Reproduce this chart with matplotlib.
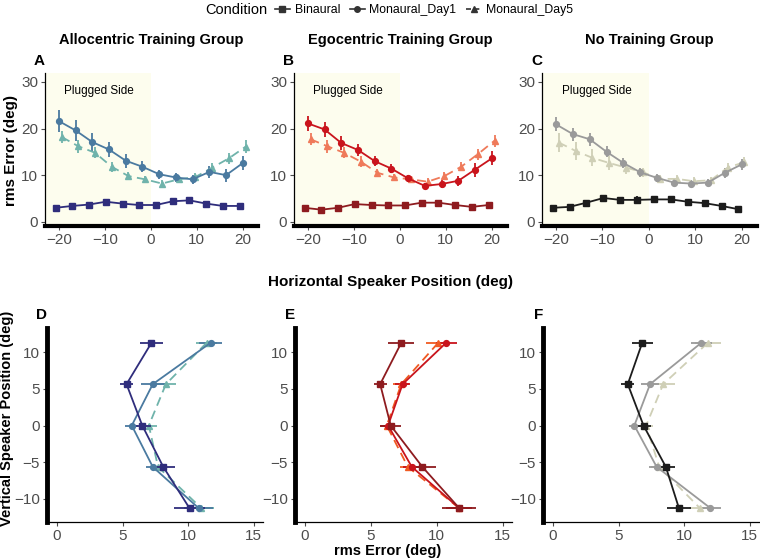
import numpy as np
import matplotlib
matplotlib.use("Agg")
import matplotlib.pyplot as plt
from matplotlib.lines import Line2D

plt.rcParams["font.family"] = ["Liberation Sans", "DejaVu Sans"]

# ---- data: horizontal speakers (top row) ----
h_pos = [-20, -16.36, -12.73, -9.09, -5.45, -1.82, 1.82, 5.45, 9.09, 12.73, 16.36, 20]

allo_bin = [3.0, 3.4, 3.7, 4.3, 3.9, 3.6, 3.6, 4.4, 4.6, 3.9, 3.4, 3.4]
allo_d1 = [21.6, 19.6, 17.1, 15.5, 13.1, 11.8, 10.2, 9.5, 9.1, 10.7, 10.0, 12.6]
allo_d5 = [18.2, 16.2, 14.8, 11.8, 9.8, 9.1, 8.2, 9.1, 9.6, 11.6, 13.6, 16.1]
allo_bin_err = [0.5, 0.4, 0.4, 0.4, 0.4, 0.4, 0.4, 0.4, 0.4, 0.4, 0.4, 0.4]
allo_d1_err = [2.4, 2.3, 1.9, 1.7, 1.5, 1.2, 1.0, 0.9, 0.9, 1.3, 1.4, 1.5]
allo_d5_err = [1.3, 1.4, 1.2, 1.1, 0.9, 0.8, 0.8, 0.8, 0.9, 1.0, 1.2, 1.4]

ego_bin = [3.0, 2.6, 3.0, 3.8, 3.6, 3.5, 3.5, 4.1, 4.1, 3.6, 3.2, 3.6]
ego_d1 = [21.1, 19.8, 16.9, 15.4, 13.0, 11.4, 9.3, 7.7, 8.1, 8.8, 11.2, 13.6]
ego_d5 = [17.7, 16.2, 14.8, 12.9, 10.5, 9.5, 9.1, 8.6, 9.8, 11.8, 14.5, 17.4]
ego_bin_err = [0.4, 0.4, 0.4, 0.4, 0.3, 0.3, 0.3, 0.4, 0.4, 0.4, 0.4, 0.4]
ego_d1_err = [1.6, 1.6, 1.5, 1.3, 1.1, 0.9, 0.7, 0.6, 0.8, 1.1, 1.5, 1.5]
ego_d5_err = [1.3, 1.4, 1.2, 1.1, 0.9, 0.8, 0.8, 0.8, 0.9, 1.0, 1.2, 1.3]

none_bin = [3.0, 3.2, 4.1, 5.1, 4.7, 4.7, 4.8, 4.8, 4.3, 4.0, 3.4, 2.7]
none_d1 = [20.9, 18.8, 17.7, 15.0, 12.6, 10.6, 9.4, 8.4, 8.2, 8.4, 10.5, 12.3]
none_d5 = [17.0, 15.2, 13.7, 12.6, 11.6, 10.6, 9.2, 9.2, 8.7, 8.9, 11.6, 12.8]
none_bin_err = [0.4, 0.4, 0.4, 0.4, 0.4, 0.8, 0.8, 0.4, 0.4, 0.4, 0.4, 0.4]
none_d1_err = [1.5, 1.4, 1.4, 1.2, 1.1, 1.0, 0.8, 0.7, 0.7, 0.7, 1.1, 1.2]
none_d5_err = [2.0, 2.0, 1.8, 1.5, 1.3, 1.0, 0.8, 0.8, 0.8, 0.8, 1.0, 1.0]

# ---- data: vertical speakers (bottom row) ----
v_pos = [11.25, 5.625, 0, -5.625, -11.25]

allo_v_bin = [7.2, 5.3, 6.5, 8.1, 10.1]
allo_v_d1 = [11.7, 7.3, 5.7, 7.3, 10.8]
allo_v_d5 = [11.4, 8.3, 7.0, 7.7, 11.0]
allo_v_bin_err = [0.9, 0.5, 0.7, 0.9, 1.2]
allo_v_d1_err = [0.9, 0.9, 0.5, 0.5, 1.1]
allo_v_d5_err = [0.8, 0.8, 0.6, 0.6, 1.0]

ego_v_bin = [7.3, 5.7, 6.5, 8.9, 11.7]
ego_v_d1 = [10.7, 7.4, 6.3, 8.1, 11.7]
ego_v_d5 = [10.1, 7.3, 6.2, 7.8, 11.7]
ego_v_bin_err = [1.0, 0.5, 0.8, 1.0, 1.3]
ego_v_d1_err = [0.8, 0.6, 0.5, 0.7, 1.0]
ego_v_d5_err = [0.9, 0.6, 0.5, 0.6, 1.0]

none_v_bin = [6.8, 5.7, 6.9, 8.6, 9.6]
none_v_d1 = [11.3, 7.4, 6.2, 7.9, 12.0]
none_v_d5 = [11.8, 8.4, 7.1, 8.1, 11.2]
none_v_bin_err = [0.8, 0.5, 0.6, 0.7, 0.9]
none_v_d1_err = [0.8, 0.7, 0.4, 0.6, 0.8]
none_v_d5_err = [1.0, 0.9, 0.5, 0.6, 0.8]

titles = ["Allocentric Training Group", "Egocentric Training Group", "No Training Group"]
top_letters = ["A", "B", "C"]
bot_letters = ["D", "E", "F"]
conditions = ["Binaural", "Monaural_Day1", "Monaural_Day5"]

colors = [
    ["#2f2d7c", "#4a7aa0", "#6fb3ab"],
    ["#8e1b1f", "#c9141c", "#ef7a5a"],
    ["#1c1c1c", "#9a9a9a", "#cfcfb6"],
]
colors_v = [
    ["#2f2d7c", "#4a7aa0", "#6fb3ab"],
    ["#8e1b1f", "#c9141c", "#f05a22"],
    ["#1c1c1c", "#9a9a9a", "#cfcfb6"],
]

top_data = [
    (allo_bin, allo_d1, allo_d5, allo_bin_err, allo_d1_err, allo_d5_err),
    (ego_bin, ego_d1, ego_d5, ego_bin_err, ego_d1_err, ego_d5_err),
    (none_bin, none_d1, none_d5, none_bin_err, none_d1_err, none_d5_err),
]
bot_data = [
    (allo_v_bin, allo_v_d1, allo_v_d5, allo_v_bin_err, allo_v_d1_err, allo_v_d5_err),
    (ego_v_bin, ego_v_d1, ego_v_d5, ego_v_bin_err, ego_v_d1_err, ego_v_d5_err),
    (none_v_bin, none_v_d1, none_v_d5, none_v_bin_err, none_v_d1_err, none_v_d5_err),
]

markers = ["s", "o", "^"]
styles = ["-", "-", "--"]
dodge = [-0.7, 0.0, 0.6]

W, H = 760, 558
fig = plt.figure(figsize=(W / 100, H / 100), dpi=100)


def px_axes(x0, y0, x1, y1):
    return fig.add_axes([x0 / W, 1 - y1 / H, (x1 - x0) / W, (y1 - y0) / H])


def style_axes(ax, thick):
    for s in ["top", "right"]:
        ax.spines[s].set_visible(False)
    ax.spines["left"].set_linewidth(3.5 if thick == "left" else 0.9)
    ax.spines["bottom"].set_linewidth(3.0 if thick == "bottom" else 0.9)
    ax.tick_params(colors="#4d4d4d", labelsize=11, length=3, width=0.8, pad=2)


top_x = [(45, 258), (294, 507), (542, 757)]
bot_x = [(47, 263), (295, 512), (543, 759)]

for i in range(3):
    x0, x1 = top_x[i]
    ax = px_axes(x0, 73, x1, 226)
    style_axes(ax, "bottom")
    ax.axvspan(-23, 0, color="#fdfdee", zorder=0, lw=0)
    ax.text(-18.8, 28, "Plugged Side", fontsize=8.5, va="center", ha="left")
    for k in range(3):
        vals = top_data[i][k]
        errs = top_data[i][3 + k]
        xs = np.array(h_pos) + dodge[k]
        ax.errorbar(xs, vals, yerr=errs, color=colors[i][k], marker=markers[k],
                    ls=styles[k], lw=1.3, ms=4.2, elinewidth=1.3, capsize=0,
                    dashes=(5, 3) if k == 2 else (None, None), zorder=3 - k * 0.1)
    ax.set_xlim(-23, 23.3)
    ax.set_ylim(-0.9, 31.9)
    ax.set_xticks([-20, -10, 0, 10, 20])
    ax.set_yticks([0, 10, 20, 30])
    ax.text(0.0, 1.03, top_letters[i], transform=ax.transAxes, fontsize=11,
            fontweight="bold", ha="right", va="bottom")
    fig.text((x0 + x1) / 2 / W, 1 - 40 / H, titles[i], ha="center", va="center",
             fontsize=10.5, fontweight="bold")

for i in range(3):
    x0, x1 = bot_x[i]
    ax = px_axes(x0, 328, x1, 522)
    style_axes(ax, "left")
    for k in range(3):
        vals = bot_data[i][k]
        errs = bot_data[i][3 + k]
        ax.errorbar(vals, v_pos, xerr=errs, color=colors_v[i][k], marker=markers[k],
                    ls=styles[k], lw=1.3, ms=4.2, elinewidth=1.3, capsize=0,
                    dashes=(5, 3) if k == 2 else (None, None), zorder=3 - k * 0.1)
    ax.set_xlim(-0.76, 15.7)
    ax.set_ylim(-13.13, 13.27)
    ax.set_xticks([0, 5, 10, 15])
    ax.set_yticks([-10, -5, 0, 5, 10])
    ax.text(0.0, 1.03, bot_letters[i], transform=ax.transAxes, fontsize=11,
            fontweight="bold", ha="right", va="bottom")

fig.text(390 / W, 1 - 282 / H, "Horizontal Speaker Position (deg)", ha="center",
         va="center", fontsize=11, fontweight="bold")
fig.text(388 / W, 1 - 551 / H, "rms Error (deg)", ha="center", va="center",
         fontsize=10.5, fontweight="bold")
fig.text(11 / W, 1 - 150 / H, "rms Error (deg)", ha="center", va="center",
         fontsize=11, fontweight="bold", rotation=90)
fig.text(7 / W, 1 - 418 / H, "Vertical Speaker Position (deg)", ha="center",
         va="center", fontsize=10.5, fontweight="bold", rotation=90)

# legend across the top
handles = [
    Line2D([], [], color="#333333", marker="s", ls="-", lw=1.2, ms=4),
    Line2D([], [], color="#333333", marker="o", ls="-", lw=1.2, ms=4),
    Line2D([], [], color="#333333", marker="^", ls="--", lw=1.2, ms=4, dashes=(3, 2)),
]
fig.text(267 / W, 1 - 10 / H, "Condition", ha="right", va="center", fontsize=10.5)
fig.legend(handles, conditions, loc="center left", bbox_to_anchor=(275 / W, 1 - 10 / H),
           ncol=3, frameon=False, fontsize=8.8, handlelength=1.2, handletextpad=0.4,
           columnspacing=0.8, borderpad=0, borderaxespad=0)

fig.savefig("out.png", dpi=100)
